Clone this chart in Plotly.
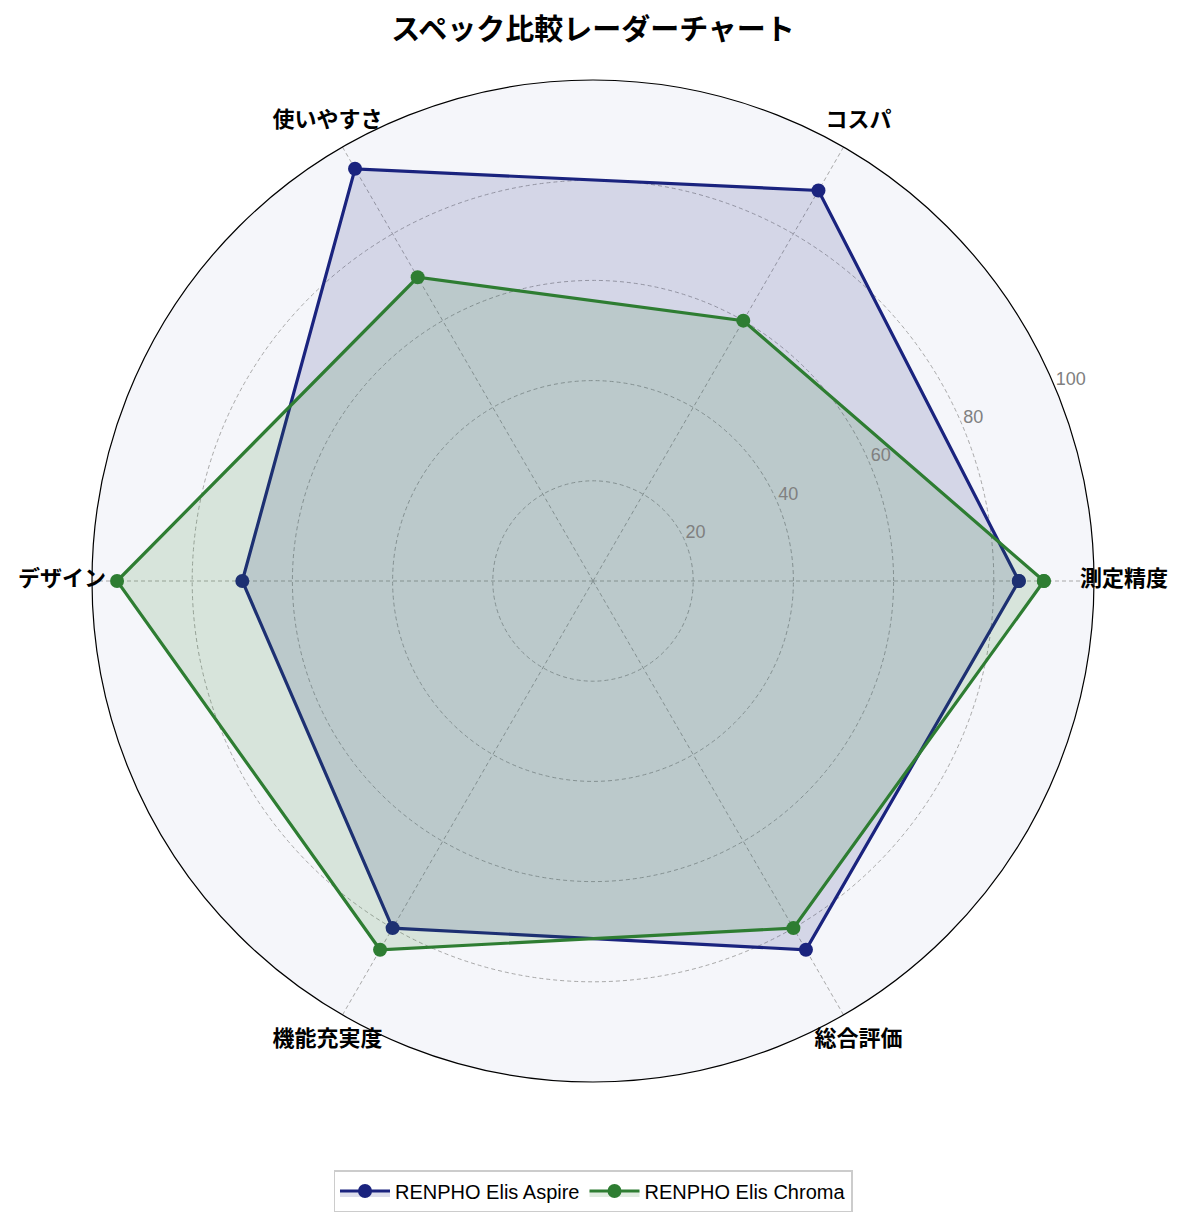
import plotly.graph_objects as go

categories = ["測定精度", "コスパ", "使いやすさ", "デザイン", "機能充実度", "総合評価"]
aspire = [85, 90, 95, 70, 80, 85]
chroma = [90, 60, 70, 95, 85, 80]
series_names = ["RENPHO Elis Aspire", "RENPHO Elis Chroma"]
radial_ticks = [20, 40, 60, 80, 100]
radial_tick_labels = ["20", "40", "60", "80", "100"]

colors = ["#1a237e", "#2e7d32"]
fills = ["rgba(26,35,126,0.15)", "rgba(46,125,50,0.15)"]

OFF = 8            # html body margin compensation
W, H = 1185, 1223
CX, CY, R = 593 - OFF, 581 - OFF, 501     # main polar centre / radius in px
LABEL_R = 106                              # category labels sit just outside r=100
R2 = R * LABEL_R / 100

fig = go.Figure()
for name, vals, c, f in zip(series_names, [aspire, chroma], colors, fills):
    fig.add_trace(go.Scatterpolar(
        r=vals + vals[:1],
        theta=categories + categories[:1],
        mode="lines+markers",
        name=name,
        line=dict(color=c, width=3.2),
        marker=dict(color=c, size=14),
        fill="toself",
        fillcolor=f,
        subplot="polar",
    ))

# overlay polar used only for text labels (category names and radial tick labels)
n = len(categories)
fig.add_trace(go.Scatterpolar(
    r=[LABEL_R] * n, theta=[i * 360 / n for i in range(n)], mode="text", text=categories,
    textfont=dict(size=22, color="black", family="Noto Sans CJK JP", weight="bold"),
    textposition="middle center", showlegend=False, hoverinfo="skip", subplot="polar2",
))
fig.add_trace(go.Scatterpolar(
    r=radial_ticks, theta=[22.5] * len(radial_ticks), mode="text", text=radial_tick_labels,
    textfont=dict(size=18, color="#808080", family="Liberation Sans"),
    textposition="top right", showlegend=False, hoverinfo="skip", subplot="polar2",
))

fig.update_layout(
    width=W, height=H,
    paper_bgcolor="white",
    font=dict(family="Noto Sans CJK JP", color="black"),
    margin=dict(l=0, r=0, t=0, b=0),
    title=dict(text="<b>スペック比較レーダーチャート</b>", x=CX / W, xanchor="center",
               y=1 - (30 - OFF) / H, yanchor="middle", font=dict(size=29, color="black")),
    polar=dict(
        domain=dict(x=[(CX - R) / W, (CX + R) / W], y=[1 - (CY + R) / H, 1 - (CY - R) / H]),
        bgcolor="#f5f6fa",
        radialaxis=dict(
            range=[0, 100], tickvals=radial_ticks, angle=22.5,
            showline=False, ticks="", showticklabels=False,
            gridcolor="#a8a8a8", griddash="4px,3px", gridwidth=0.8,
        ),
        angularaxis=dict(
            direction="counterclockwise", rotation=0,
            showline=True, linecolor="black", linewidth=1.2, ticks="",
            showticklabels=False,
            gridcolor="#a8a8a8", griddash="4px,3px", gridwidth=0.8,
        ),
    ),
    polar2=dict(
        domain=dict(x=[(CX - R2) / W, (CX + R2) / W], y=[1 - (CY + R2) / H, 1 - (CY - R2) / H]),
        bgcolor="rgba(0,0,0,0)",
        radialaxis=dict(range=[0, LABEL_R], visible=False, showgrid=False, showline=False,
                        showticklabels=False, ticks=""),
        angularaxis=dict(type="linear", thetaunit="degrees", direction="counterclockwise", rotation=0,
                         showgrid=False, showline=False, showticklabels=False, ticks=""),
    ),
    legend=dict(orientation="h", x=CX / W, xanchor="center", y=1 - (1191 - OFF) / H, yanchor="middle",
                bordercolor="#cccccc", borderwidth=1.5, itemwidth=50,
                font=dict(size=20, family="Liberation Sans")),
)

fig.write_html("out.html")
